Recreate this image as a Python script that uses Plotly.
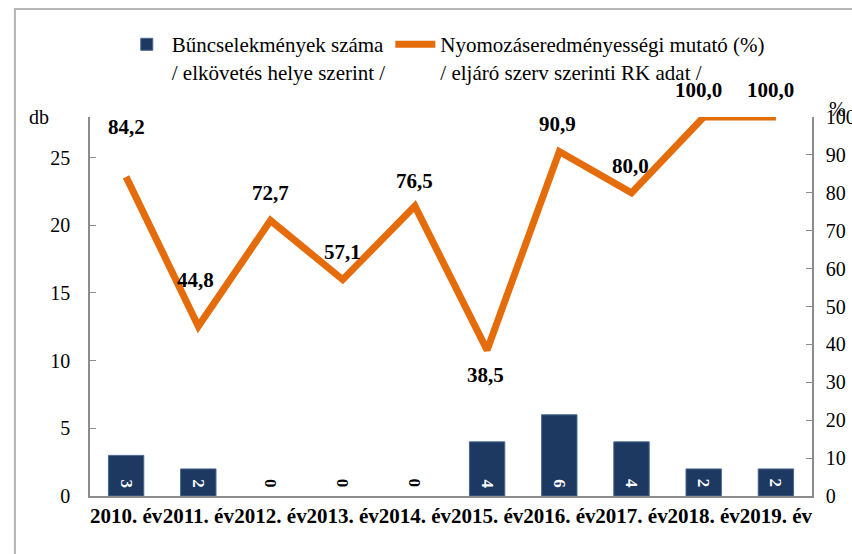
import plotly.graph_objects as go

categories = ["2010. év", "2011. év", "2012. év", "2013. év", "2014. év",
              "2015. év", "2016. év", "2017. év", "2018. év", "2019. év"]
crimes = [3, 2, 0, 0, 0, 4, 6, 4, 2, 2]
rate = [84.2, 44.8, 72.7, 57.1, 76.5, 38.5, 90.9, 80.0, 100.0, 100.0]

bar_name = "Bűncselekmények száma<br>/ elkövetés helye szerint /"
line_name = "Nyomozáseredményességi mutató (%)<br>/ eljáró szerv szerinti RK adat /"

# label offsets (px) for the line data labels
label_dy = [50, 46, 27, 28, 25, -25, 27, 27, 27, 27]
label_dx = [0, -3, 0, 0, 0, -2, -2, -1, -5, -5]

FONT = "Liberation Serif"
NAVY = "#1d3961"
ORANGE = "#E46C0A"

fig = go.Figure()
fig.add_trace(go.Bar(
    x=categories, y=crimes, name=bar_name, yaxis="y",
    marker=dict(color=NAVY,
                line=dict(color="#4a6790",
                          width=[1 if v > 0 else 0 for v in crimes])),
    width=0.49,
))
fig.add_trace(go.Scatter(
    x=categories, y=rate, name=line_name, yaxis="y2", mode="lines",
    line=dict(color=ORANGE, width=7), cliponaxis=False,
))

ann = []
for c, v in zip(categories, crimes):
    ann.append(dict(x=c, y=0, xref="x", yref="y", text=f"<b>{v}</b>",
                    textangle=90, showarrow=False, yanchor="bottom",
                    yshift=6, font=dict(family=FONT, size=17,
                                        color="white" if v > 0 else "black")))
for c, v, dy, dx in zip(categories, rate, label_dy, label_dx):
    ann.append(dict(x=c, y=v, xref="x", yref="y2",
                    text="<b>" + f"{v:.1f}".replace(".", ",") + "</b>",
                    showarrow=False, yshift=dy, xshift=dx,
                    font=dict(family=FONT, size=21, color="black")))
ann.append(dict(x=-0.07, y=1.0, xref="paper", yref="paper", text="db",
                showarrow=False, xanchor="center", yanchor="middle",
                font=dict(family=FONT, size=20, color="black")))
ann.append(dict(x=1.035, y=1.02, xref="paper", yref="paper", text="%",
                showarrow=False, xanchor="center", yanchor="middle",
                font=dict(family=FONT, size=20, color="black")))

fig.update_layout(
    width=852, height=554,
    margin=dict(l=90, r=40, t=117, b=58, autoexpand=False),
    paper_bgcolor="white", plot_bgcolor="white",
    font=dict(family=FONT, size=20, color="black"),
    showlegend=True,
    legend=dict(orientation="h", x=0.044, y=1.245, xanchor="left", yanchor="top",
                font=dict(family=FONT, size=21, color="black"),
                valign="top", traceorder="normal", itemwidth=40,
                bgcolor="rgba(0,0,0,0)"),
    xaxis=dict(showgrid=False, showline=True, linecolor="#8c8c8c", linewidth=1.5,
               ticks="", tickangle=0, automargin=False,
               tickfont=dict(family=FONT, size=21, color="black"),
               tickprefix="<b>", ticksuffix="</b>"),
    yaxis=dict(range=[0, 28], tickvals=[0, 5, 10, 15, 20, 25], showgrid=False,
               showline=True, linecolor="#8c8c8c", linewidth=1.5,
               ticks="inside", ticklen=6, tickcolor="#8c8c8c",
               ticklabelstandoff=14, zeroline=False, automargin=False,
               tickfont=dict(family=FONT, size=20, color="black")),
    yaxis2=dict(range=[0, 100], dtick=10, overlaying="y", side="right",
                showgrid=False, showline=True, linecolor="#8c8c8c", linewidth=1.5,
                ticks="inside", ticklen=6, tickcolor="#8c8c8c",
                ticklabelstandoff=8, zeroline=False, automargin=False,
                tickfont=dict(family=FONT, size=20, color="black")),
    annotations=ann,
    shapes=[dict(type="rect", xref="paper", yref="paper",
                 x0=-0.104, x1=1.3, y0=-0.5, y1=1.285,
                 line=dict(color="#b4b4b4", width=2), layer="below")],
    bargap=0.5,
)

fig.write_html("out.html", config={"displayModeBar": False},
               post_script="document.body.style.margin='0px';")
